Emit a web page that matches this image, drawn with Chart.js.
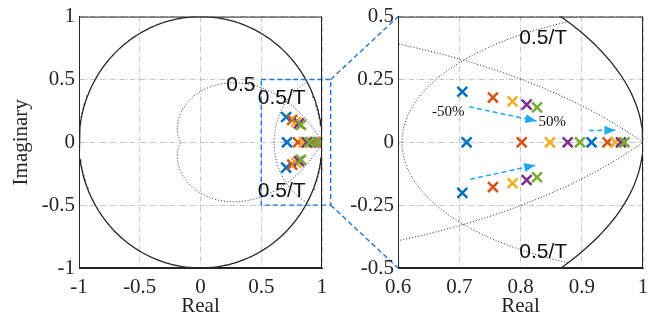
<!DOCTYPE html>
<html>
<head>
<meta charset="utf-8">
<script src="https://cdn.jsdelivr.net/npm/chart.js@4/dist/chart.umd.min.js"></script>
<style>
body { margin: 0; background: #fff; }
#wrap { position: relative; width: 656px; height: 322px; }
canvas { position: absolute; top: 0; }
#full { left: 0; }
#zoom { left: 320px; }
</style>
</head>
<body>
<div id="wrap">
  <canvas id="full" width="400" height="322"></canvas>
  <canvas id="zoom" width="336" height="322"></canvas>
</div>
<script>
// poles for the five cases (conjugate pair + two real poles)
const poleColors = ['#0072BD', '#D95319', '#EDB120', '#7E2F8E', '#77AC30'];
const blueRe   = [0.705, 0.712, 0.705, 0.916];
const blueIm   = [0.201, 0, -0.201, 0];
const orangeRe = [0.755, 0.802, 0.755, 0.942];
const orangeIm = [0.178, 0, -0.178, 0];
const yellowRe = [0.787, 0.848, 0.787, 0.955];
const yellowIm = [0.163, 0, -0.163, 0];
const purpleRe = [0.810, 0.877, 0.810, 0.964];
const purpleIm = [0.150, 0, -0.150, 0];
const greenRe  = [0.827, 0.897, 0.827, 0.970];
const greenIm  = [0.139, 0, -0.139, 0];
const poleRe = [blueRe, orangeRe, yellowRe, purpleRe, greenRe];
const poleIm = [blueIm, orangeIm, yellowIm, purpleIm, greenIm];

// zgrid lines: damping ratio and natural frequency (wn*T)
const zeta = 0.5;
const wnT = 0.5;

// tick labels
const fullTicks = [-1, -0.5, 0, 0.5, 1];
const zoomXTicks = [0.6, 0.7, 0.8, 0.9, 1];
const zoomYTicks = [-0.5, -0.25, 0, 0.25, 0.5];

// zoom box on the left plot and the connectors to the right plot
const boxRe = [0.5, 1.072, 1.072, 0.5, 0.5];
const boxIm = [0.5, 0.5, -0.5, -0.5, 0.5];
const linkTopRe = [1.072, 1.626];
const linkTopIm = [0.5, 1.0];
const linkBotRe = [1.072, 1.626];
const linkBotIm = [-0.5, -1.0];

// arrows in the zoomed plot
const arrowRe = [[0.716, 0.826], [0.718, 0.824], [0.912, 0.955]];
const arrowIm = [[0.141, 0.085], [-0.147, -0.091], [0.047, 0.048]];

// text labels
const fullLabels  = ['0.5', '0.5/T', '0.5/T'];
const fullLabelRe = [0.332, 0.668, 0.668];
const fullLabelIm = [0.451, 0.349, -0.386];
const zoomLabels  = ['0.5/T', '0.5/T', '-50%', '50%'];
const zoomLabelRe = [0.837, 0.837, 0.682, 0.852];
const zoomLabelIm = [0.415, -0.436, 0.122, 0.079];

const serif = "'Liberation Serif', 'Times New Roman', serif";
const sans = "'Liberation Sans', Arial, sans-serif";

function toPts(re, im) {
    return re.map((r, i) => ({x: r, y: im[i]}));
}

// unit circle
function circlePts() {
    let pts = [];
    for (let i = 0; i <= 360; i++) {
        let a = i * Math.PI / 180;
        pts.push({x: Math.cos(a), y: Math.sin(a)});
    }
    return pts;
}

// constant damping curve, upper half then back along the lower half
function zetaPts() {
    let wd = Math.sqrt(1 - zeta * zeta);
    let wmax = Math.PI / wd;
    let up = [];
    for (let i = 0; i <= 200; i++) {
        let w = wmax * i / 200;
        let r = Math.exp(-zeta * w);
        up.push({x: r * Math.cos(wd * w), y: r * Math.sin(wd * w)});
    }
    let down = up.slice().reverse().map(p => ({x: p.x, y: -p.y}));
    return up.concat(down);
}

// constant natural frequency curve
function wnPts() {
    let up = [];
    for (let i = 0; i <= 100; i++) {
        let phi = (Math.PI / 2) * i / 100;
        let r = Math.exp(-wnT * Math.cos(phi));
        let a = wnT * Math.sin(phi);
        up.push({x: r * Math.cos(a), y: r * Math.sin(a)});
    }
    let down = up.slice().reverse().map(p => ({x: p.x, y: -p.y}));
    return down.concat(up);
}

function lineSet(data, color, width, dash, extra) {
    return Object.assign({
        data: data,
        showLine: true,
        borderColor: color,
        borderWidth: width,
        borderDash: dash,
        pointRadius: 0,
        fill: false,
        tension: 0,
        order: 20,
    }, extra || {});
}

function poleSets() {
    return poleColors.map((c, i) => ({
        data: toPts(poleRe[i], poleIm[i]),
        showLine: false,
        pointStyle: 'crossRot',
        pointRadius: 7,
        borderWidth: 2.5,
        borderColor: c,
        backgroundColor: c,
        order: 4 - i,
    }));
}

const gridColor = '#c4c4c4';

function axis(min, max, ticks, title, fixed, isY) {
    return {
        type: 'linear',
        min: min,
        max: max,
        afterBuildTicks: (scale) => { scale.ticks = ticks.map(v => ({value: v})); },
        afterFit: (scale) => {
            if (isY) scale.width = fixed; else scale.height = fixed;
        },
        ticks: {
            color: '#262626',
            font: {family: serif, size: 21},
            padding: isY ? 4 : 7,
            callback: (v) => String(v),
        },
        grid: {color: gridColor, lineWidth: 1, drawTicks: false},
        border: {color: '#262626', width: 1, dash: [5, 2, 1, 2]},
        title: {
            display: !!title,
            text: title,
            color: '#262626',
            font: {family: serif, size: 21},
            padding: isY ? {top: 9} : {bottom: 3},
        },
    };
}

const framePlugin = {
    id: 'frame',
    afterDatasetsDraw(chart, args, opts) {
        let ctx = chart.ctx;
        let a = chart.chartArea;
        let xs = chart.scales.x, ys = chart.scales.y;
        ctx.save();
        // arrow heads
        chart.data.datasets.forEach(ds => {
            if (!ds.arrow) return;
            let p0 = ds.data[ds.data.length - 2], p1 = ds.data[ds.data.length - 1];
            let x0 = xs.getPixelForValue(p0.x), y0 = ys.getPixelForValue(p0.y);
            let x1 = xs.getPixelForValue(p1.x), y1 = ys.getPixelForValue(p1.y);
            let ang = Math.atan2(y1 - y0, x1 - x0);
            ctx.fillStyle = ds.borderColor;
            ctx.beginPath();
            ctx.moveTo(x1, y1);
            ctx.lineTo(x1 - 11 * Math.cos(ang) + 4.5 * Math.sin(ang), y1 - 11 * Math.sin(ang) - 4.5 * Math.cos(ang));
            ctx.lineTo(x1 - 11 * Math.cos(ang) - 4.5 * Math.sin(ang), y1 - 11 * Math.sin(ang) + 4.5 * Math.cos(ang));
            ctx.closePath();
            ctx.fill();
        });
        // text labels
        ctx.textAlign = 'center';
        ctx.textBaseline = 'middle';
        ctx.fillStyle = '#111';
        opts.labels.forEach((t, i) => {
            ctx.font = opts.fonts[i];
            ctx.fillText(t, xs.getPixelForValue(opts.re[i]), ys.getPixelForValue(opts.im[i]));
        });
        // axes box
        ctx.strokeStyle = '#262626';
        ctx.lineWidth = 1;
        ctx.strokeRect(a.left + 0.5, a.top + 0.5, a.right - a.left - 1, a.bottom - a.top - 1);
        ctx.restore();
    }
};

const dotted = [1, 2];

// full z-plane
let full = document.getElementById('full');
let fullChart = new Chart(full, {
    type: 'scatter',
    data: {
        datasets: [
            lineSet(circlePts(), '#262626', 1.3, []),
            lineSet(zetaPts(), '#222', 1, dotted),
            lineSet(wnPts(), '#222', 1, dotted),
            lineSet(toPts(boxRe, boxIm), '#1f77d0', 1.4, [5, 3], {clip: false, order: 0}),
            lineSet(toPts(linkTopRe, linkTopIm), '#1f77d0', 1.4, [5, 3], {clip: false, order: 0}),
            lineSet(toPts(linkBotRe, linkBotIm), '#1f77d0', 1.4, [5, 3], {clip: false, order: 0}),
        ].concat(poleSets()),
    },
    options: {
        responsive: false,
        animation: false,
        events: [],
        layout: {padding: {left: 0, top: 14, right: 78, bottom: 0}},
        scales: {
            x: axis(-1, 1, fullTicks, 'Real', 54, false),
            y: axis(-1, 1, fullTicks, 'Imaginary', 79, true),
        },
        plugins: {
            legend: {display: false},
            tooltip: {enabled: false},
            frame: {
                labels: fullLabels, re: fullLabelRe, im: fullLabelIm,
                fonts: fullLabels.map(() => '21px ' + sans),
            },
        },
    },
    plugins: [framePlugin],
});

// zoomed region
let arrowSets = arrowRe.map((re, i) =>
    lineSet(toPts(re, arrowIm[i]), '#1eaaf0', 1.5, [5, 3], {arrow: true, order: 15}));

let zoom = document.getElementById('zoom');
let zoomChart = new Chart(zoom, {
    type: 'scatter',
    data: {
        datasets: [
            lineSet(circlePts(), '#262626', 1.3, []),
            lineSet(zetaPts(), '#222', 1, dotted),
            lineSet(wnPts(), '#222', 1, dotted),
        ].concat(arrowSets, poleSets()),
    },
    options: {
        responsive: false,
        animation: false,
        events: [],
        layout: {padding: {left: 0, top: 14, right: 13, bottom: 0}},
        scales: {
            x: axis(0.6, 1, zoomXTicks, 'Real', 54, false),
            y: axis(-0.5, 0.5, zoomYTicks, '', 78, true),
        },
        plugins: {
            legend: {display: false},
            tooltip: {enabled: false},
            frame: {
                labels: zoomLabels, re: zoomLabelRe, im: zoomLabelIm,
                fonts: ['21px ' + sans, '21px ' + sans, '15px ' + serif, '15px ' + serif],
            },
        },
    },
    plugins: [framePlugin],
});
</script>
</body>
</html>
